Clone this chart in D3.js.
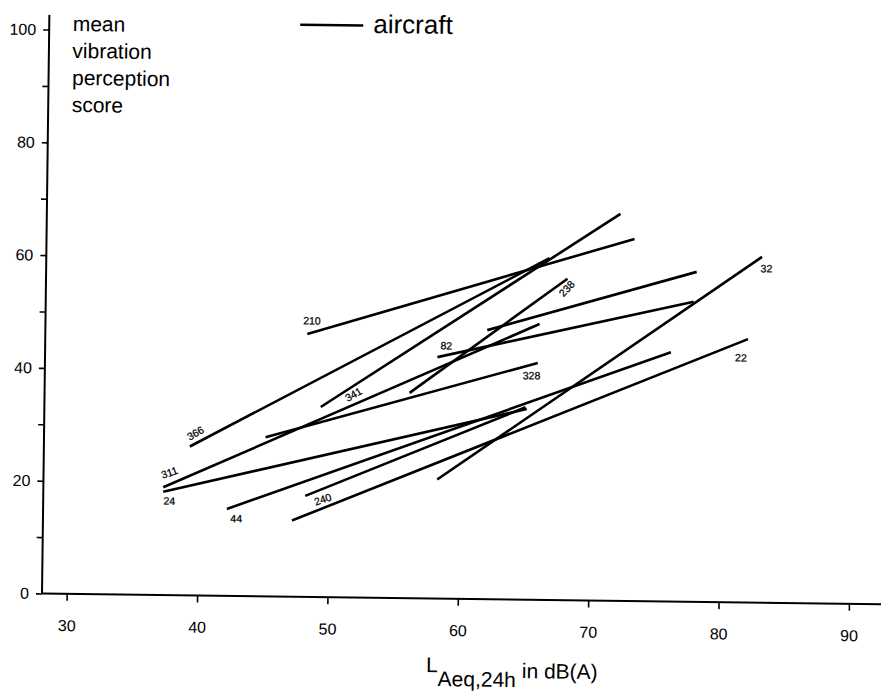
<!DOCTYPE html>
<html>
<head>
<meta charset="utf-8">
<script src="https://cdn.jsdelivr.net/npm/d3@7"></script>
<style>
  html, body { margin: 0; padding: 0; background: #fff; }
  svg { display: block; }
  text { font-family: "Liberation Sans", Arial, Helvetica, sans-serif; fill: #000; }
</style>
</head>
<body>
<svg id="chart" width="881" height="693"></svg>
<script>
// Regression lines of mean vibration perception score against LAeq,24h,
// one line per aircraft noise study (study id shown next to the line).
const studyIds   = ["210", "366", "341", "311", "24", "44", "240", "328", "82", "238", "32", "22", ""];
const levelStart = [48.2, 39.3, 49.3, 37.3, 37.3, 42.2, 48.2, 45.1, 58.2, 56.1, 58.3, 47.2, 62.0];
const scoreStart = [46.6, 26.4, 33.7, 19.1, 18.3, 15.4, 17.9, 28.2, 42.8, 36.4, 21.1, 13.5, 47.7];
const levelEnd   = [73.2, 66.7, 72.1, 66.0, 65.1, 76.1, 65.0, 65.9, 77.8, 68.1, 83.0, 82.0, 78.0];
const scoreEnd   = [64.2, 60.6, 68.6, 48.9, 33.8, 44.2, 34.1, 42.0, 53.2, 57.0, 61.3, 46.7, 58.5];

const xTicks = [30, 40, 50, 60, 70, 80, 90];
const yTicks = [0, 10, 20, 30, 40, 50, 60, 70, 80, 90, 100];
const yTickLabels = [0, 20, 40, 60, 80, 100];
const yTitleLines = ["mean", "vibration", "perception", "score"];
const legendLabel = "aircraft";

// where each study id sits relative to its line (pixels, degrees)
const idPlacement = {
  "210": { at: "start", dx: 4.5,  dy: -13.3, rot: 0 },
  "366": { at: "start", dx: 5.5,  dy: -13.4, rot: -30 },
  "341": { at: "start", dx: 32.6, dy: -13,   rot: -30 },
  "311": { at: "start", dx: 6,    dy: -14.8, rot: -20 },
  "24":  { at: "start", dx: 6.3,  dy: 9.1,   rot: 0 },
  "44":  { at: "start", dx: 9.5,  dy: 9.5,   rot: 0 },
  "240": { at: "start", dx: 17.5, dy: 3.3,   rot: -20 },
  "82":  { at: "start", dx: 8.7,  dy: -11.5, rot: 0 },
  "238": { at: "end",   dx: -0.6, dy: 10,    rot: -48 },
  "328": { at: "end",   dx: -6,   dy: 12.8,  rot: 0 },
  "32":  { at: "end",   dx: 4.5,  dy: 11.6,  rot: 0 },
  "22":  { at: "end",   dx: -6.8, dy: 18.7,  rot: 0 }
};

const lines = studyIds.map((id, i) => ({
  id, x1: levelStart[i], y1: scoreStart[i], x2: levelEnd[i], y2: scoreEnd[i]
}));

const svg = d3.select("#chart");
const origin = [42, 593.5];

// the printed figure sits slightly askew; keep the whole plot in one tilted frame
const g = svg.append("g")
  .attr("transform", `rotate(0.73, ${origin[0]}, ${origin[1]})`);

const x = d3.scaleLinear().domain([30, 90]).range([66.7, 849]);
const y = d3.scaleLinear().domain([0, 100]).range([593.5, 29.5]);

// axis lines run a bit past the outer ticks
g.append("line")
  .attr("x1", origin[0]).attr("x2", origin[0])
  .attr("y1", y(0)).attr("y2", y(102.6))
  .attr("stroke", "#000").attr("stroke-width", 2);
g.append("line")
  .attr("x1", origin[0]).attr("x2", x(94))
  .attr("y1", y(0)).attr("y2", y(0))
  .attr("stroke", "#000").attr("stroke-width", 2);

const yAxis = d3.axisLeft(y)
  .tickValues(yTicks)
  .tickSize(6)
  .tickPadding(7)
  .tickFormat(d => yTickLabels.includes(d) ? d : "");
const yg = g.append("g").attr("transform", `translate(${origin[0]},0)`).call(yAxis);
yg.select(".domain").remove();
yg.selectAll(".tick line").attr("stroke", "#000").attr("stroke-width", 1.6);
yg.selectAll(".tick text").attr("font-size", 16).attr("font-family", "Liberation Sans, Arial, sans-serif").attr("fill", "#000");

const xAxis = d3.axisBottom(x)
  .tickValues(xTicks)
  .tickSize(7)
  .tickPadding(19)
  .tickFormat(d3.format("d"));
const xg = g.append("g").attr("transform", `translate(0,${y(0)})`).call(xAxis);
xg.select(".domain").remove();
xg.selectAll(".tick line").attr("stroke", "#000").attr("stroke-width", 1.6);
xg.selectAll(".tick text").attr("font-size", 16).attr("font-family", "Liberation Sans, Arial, sans-serif").attr("fill", "#000");

// regression lines
g.append("g").selectAll("line")
  .data(lines)
  .join("line")
  .attr("x1", d => x(d.x1)).attr("y1", d => y(d.y1))
  .attr("x2", d => x(d.x2)).attr("y2", d => y(d.y2))
  .attr("stroke", "#000")
  .attr("stroke-width", 2.6)
  .attr("stroke-linecap", "butt");

// study ids
g.append("g").selectAll("text")
  .data(lines.filter(d => idPlacement[d.id]))
  .join("text")
  .attr("transform", d => {
    const p = idPlacement[d.id];
    const px = p.at === "start" ? x(d.x1) : x(d.x2);
    const py = p.at === "start" ? y(d.y1) : y(d.y2);
    return `translate(${px + p.dx},${py + p.dy}) rotate(${p.rot})`;
  })
  .attr("text-anchor", "middle")
  .attr("dy", "0.35em")
  .attr("font-size", 10.5)
  .attr("stroke", "#000")
  .attr("stroke-width", 0.25)
  .text(d => d.id);

// y axis title, stacked words
g.append("text")
  .attr("font-size", 21)
  .selectAll("tspan")
  .data(yTitleLines)
  .join("tspan")
  .attr("x", 65.5)
  .attr("y", (d, i) => 30.6 + i * 27)
  .text(d => d);

// legend
g.append("line")
  .attr("x1", 293).attr("x2", 356)
  .attr("y1", 21.5).attr("y2", 21.5)
  .attr("stroke", "#000").attr("stroke-width", 2.4);
g.append("text")
  .attr("x", 366).attr("y", 28.8)
  .attr("font-size", 26)
  .text(legendLabel);

// x axis title: L with subscript Aeq,24h
const xt = g.append("text").attr("x", 427).attr("y", 667).attr("font-size", 21);
xt.append("tspan").text("L");
xt.append("tspan").attr("dy", 14).text("Aeq,24h");
xt.append("tspan").attr("dy", -9).text(" in dB(A)");
</script>
</body>
</html>
